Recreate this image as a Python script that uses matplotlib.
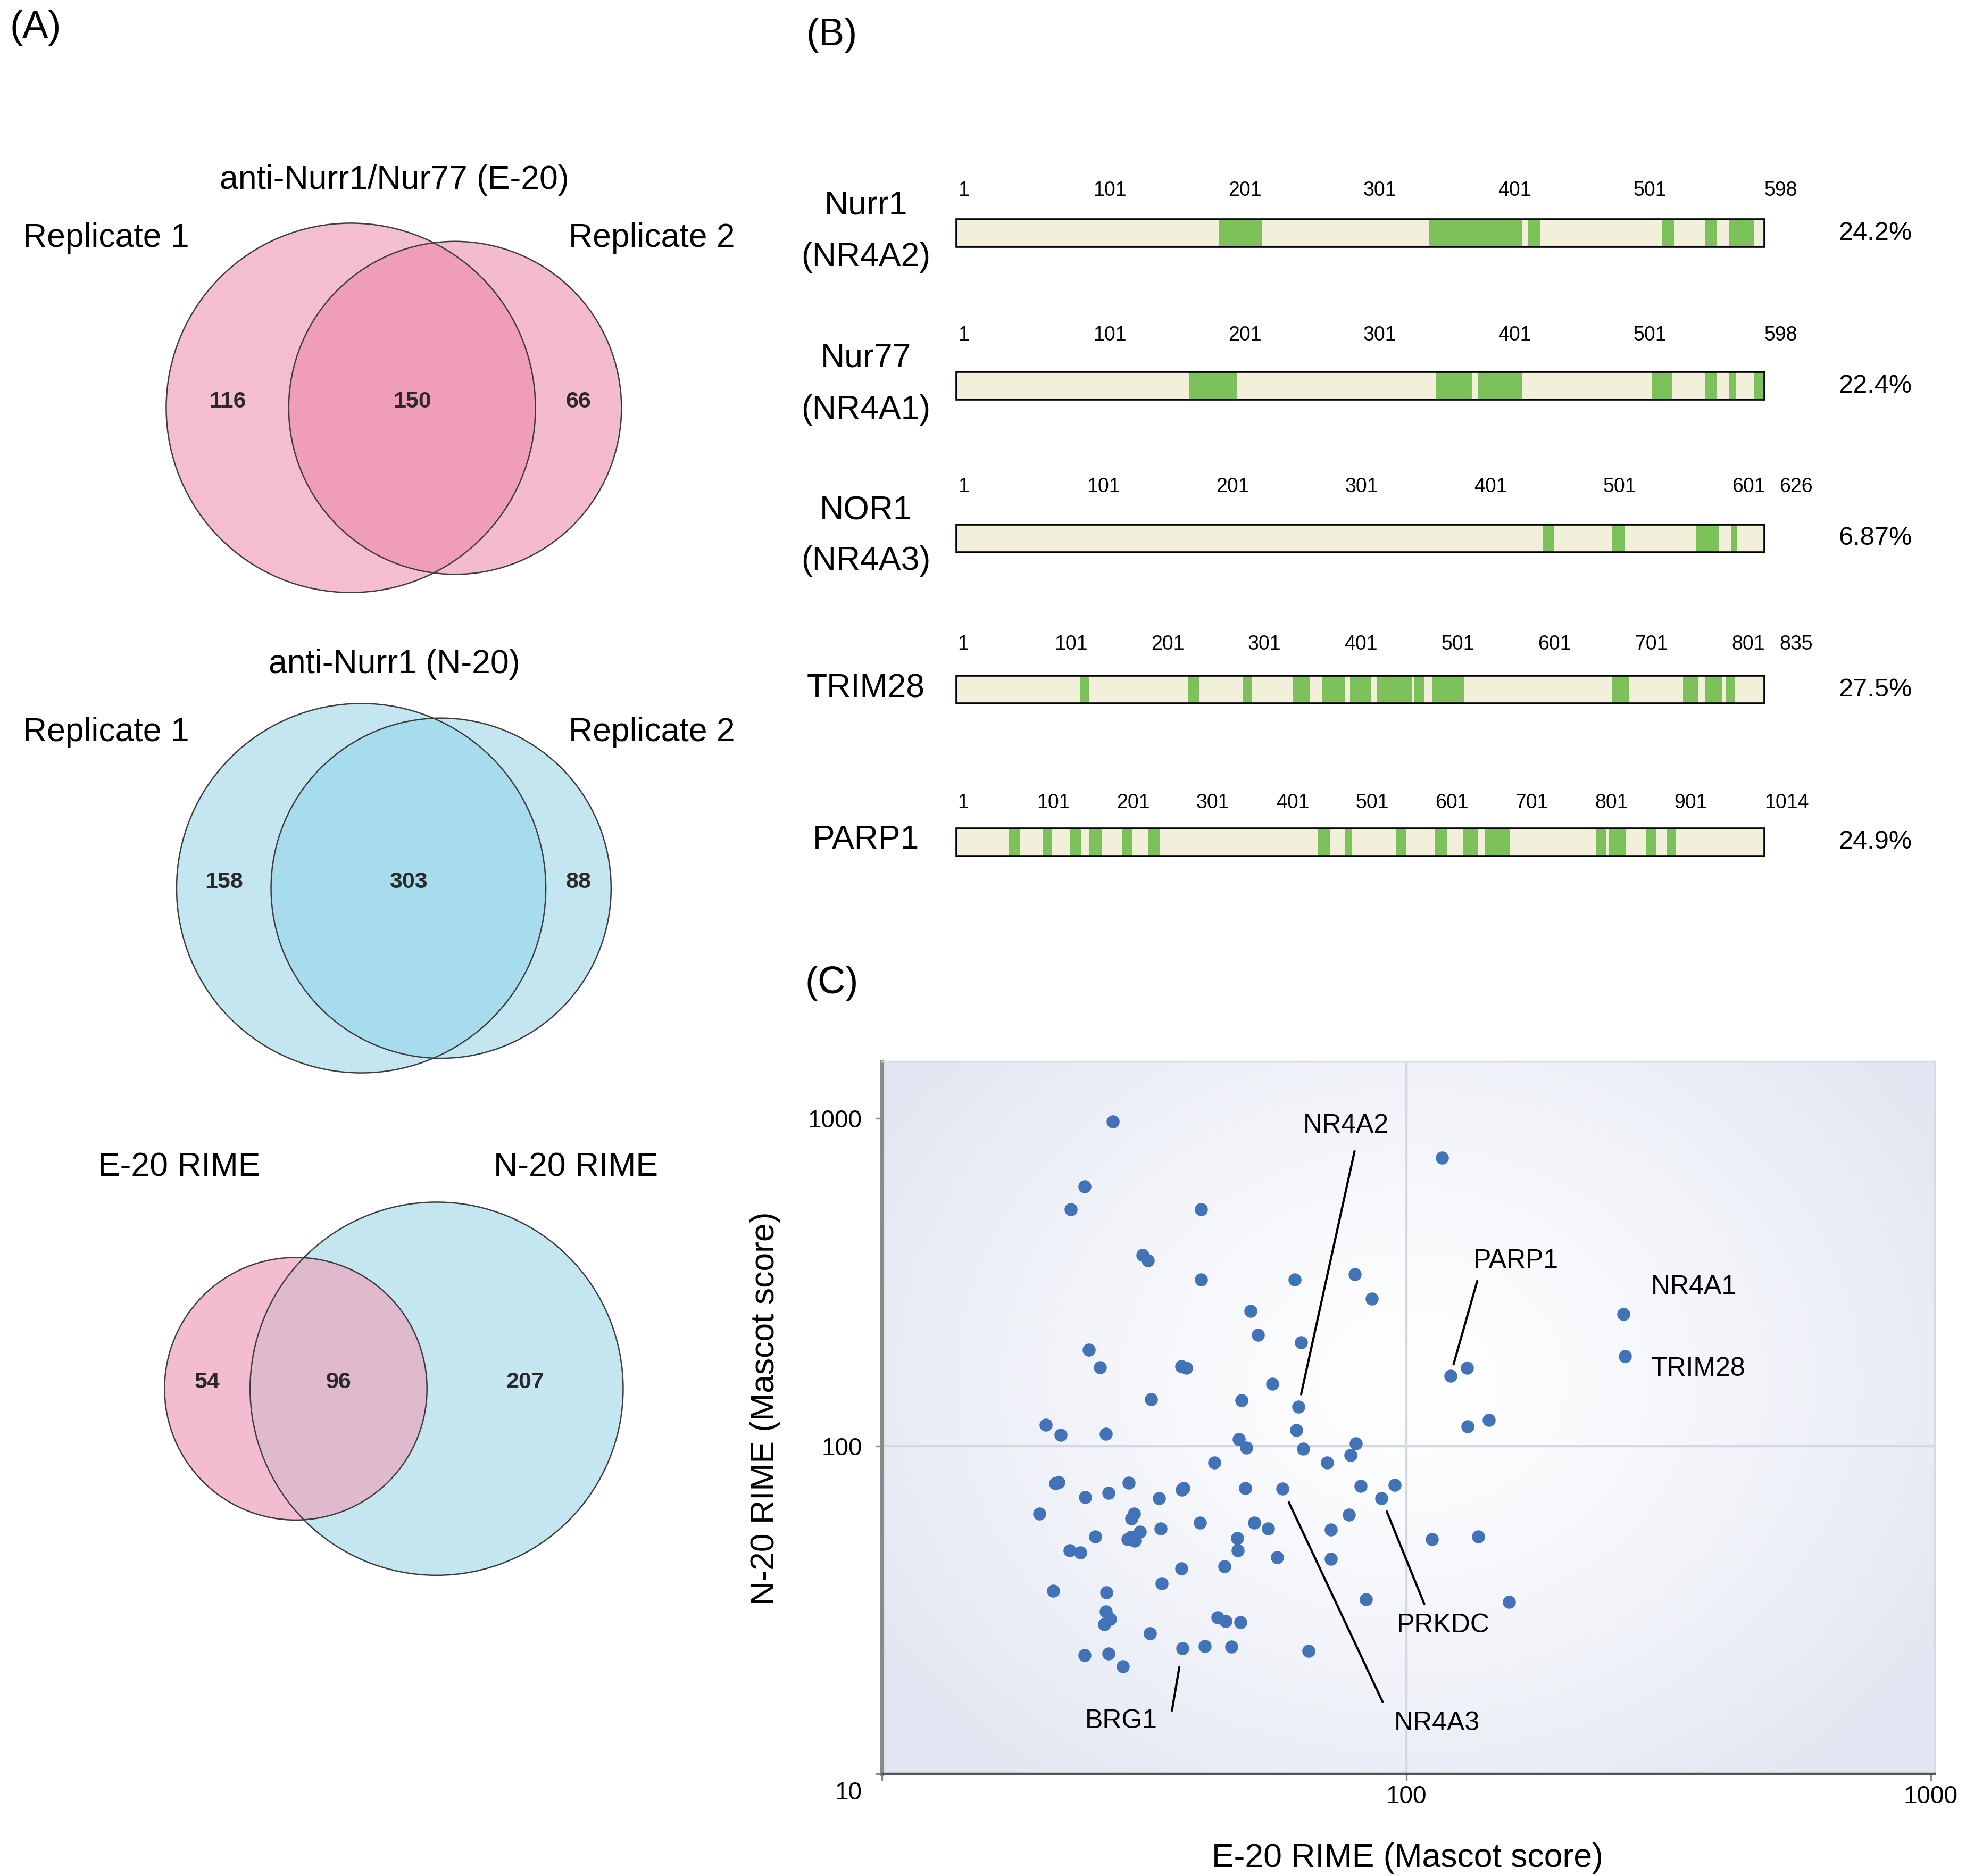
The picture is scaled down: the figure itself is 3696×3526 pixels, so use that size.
import numpy as np
import matplotlib
matplotlib.use("Agg")
import matplotlib.pyplot as plt
from matplotlib.patches import Circle, Rectangle

plt.rcParams['font.family'] = ['Liberation Sans', 'DejaVu Sans']

# ---------------- data ----------------
# (A) Venn diagrams: (only first, shared, only second)
venn_titles = ["anti-Nurr1/Nur77 (E-20)", "anti-Nurr1 (N-20)", ""]
venn_names = [("Replicate 1", "Replicate 2"), ("Replicate 1", "Replicate 2"), ("E-20 RIME", "N-20 RIME")]
venn_counts = [(116, 150, 66), (158, 303, 88), (54, 96, 207)]

# (B) peptide coverage maps
proteins = [("Nurr1", "(NR4A2)"), ("Nur77", "(NR4A1)"), ("NOR1", "(NR4A3)"), ("TRIM28", ""), ("PARP1", "")]
lengths = [598, 598, 626, 835, 1014]
residue_ticks = [
    [1, 101, 201, 301, 401, 501],
    [1, 101, 201, 301, 401, 501],
    [1, 101, 201, 301, 401, 501, 601],
    [1, 101, 201, 301, 401, 501, 601, 701, 801],
    [1, 101, 201, 301, 401, 501, 601, 701, 801, 901],
]
coverage = ["24.2%", "22.4%", "6.87%", "27.5%", "24.9%"]
segments = [
    [(194, 226), (350, 419), (423, 432), (522, 531), (554, 563), (572, 590)],
    [(172, 208), (355, 382), (386, 419), (515, 530), (554, 563), (572, 577), (590, 597)],
    [(454, 463), (508, 518), (573, 591), (600, 605)],
    [(128, 137), (239, 251), (296, 305), (348, 365), (378, 401), (407, 428), (435, 471),
     (473, 483), (492, 525), (677, 695), (751, 767), (774, 791), (795, 804)],
    [(66, 79), (109, 120), (143, 157), (166, 183), (208, 221), (240, 255), (454, 469),
     (487, 496), (552, 565), (601, 616), (636, 654), (663, 695), (803, 816), (819, 840),
     (865, 878), (892, 903)],
]

# (C) Mascot scores
e20 = [27.5, 24.3, 22.9, 40.6, 31.4, 32.1, 40.6, 61.2, 79.6, 85.9, 50.4, 52.1, 62.9, 24.8,
       26.0, 37.2, 38.0, 55.5, 32.6, 48.4, 62.2, 20.5, 21.9, 26.7, 61.7, 47.9, 49.5, 63.5,
       80.0, 78.2, 43.0, 70.6,
       116.8, 121.2, 130.4, 130.6, 143.5, 259.5, 261.0, 95.0, 111.8, 137.0, 157.0,
       21.7, 21.4, 29.5, 24.4, 27.0, 33.7, 37.6, 37.3, 49.2, 58.0, 81.8, 89.6, 19.95, 30.2,
       29.9, 29.8, 30.3, 31.0, 29.4, 25.5, 22.8, 23.9, 34.0, 40.4, 51.2, 54.5, 47.5, 47.7,
       56.6, 71.8, 71.8, 77.6, 37.2, 45.0, 34.1, 21.2, 26.8, 26.7, 27.2, 26.5, 83.6, 43.6,
       45.2, 48.2, 32.4, 24.3, 27.0, 28.8, 37.4, 41.2, 46.3, 65.0]
n20 = [977, 619, 527, 527, 383, 369, 322, 322, 335, 282, 258, 218, 207, 197,
       174, 175, 173, 155, 139, 138, 132, 116, 108, 109, 112, 105, 99, 98,
       102, 94, 89, 89,
       759, 164, 173, 115, 120, 253, 188, 76, 52, 53, 33.4,
       77.6, 77.0, 77.3, 69.8, 72.1, 69.3, 74.5, 73.5, 74.5, 74.1, 75.5, 69.2, 62.2, 62.2,
       60.1, 52.8, 51.5, 54.7, 51.9, 52.9, 48.1, 47.3, 56.1, 58.3, 58.3, 56.1, 52.4, 48.1,
       45.8, 55.6, 45.3, 61.7, 42.3, 43.0, 38.1, 36.2, 35.8, 31.3, 29.7, 28.6, 34.1, 30.0,
       29.2, 29.0, 26.8, 23.0, 23.3, 21.3, 24.2, 24.5, 24.4, 23.7]
labels = ["NR4A2", "PARP1", "NR4A1", "TRIM28", "PRKDC", "NR4A3", "BRG1"]
label_pts = [(62.2, 132), (121.2, 164), (259.5, 253), (261.0, 188), (89.6, 69.2), (58.0, 74.1), (37.4, 24.2)]

# ---------------- layout ----------------
W, H = 1560, 1488
fig = plt.figure(figsize=(18.48, 17.63), dpi=200)


def fy(y):
    return 1 - y / H


lay = fig.add_axes([0, 0, 1, 1], zorder=5)
lay.set_xlim(0, W)
lay.set_ylim(H, 0)
lay.axis('off')
lay.patch.set_alpha(0)

big = 22.5

lay.text(28, 22, "(A)", ha='center', va='center', fontsize=26)
lay.text(660, 28, "(B)", ha='center', va='center', fontsize=26)
lay.text(660, 780, "(C)", ha='center', va='center', fontsize=26)


# ---- Venn ----
def lens(r1, r2, d):
    a1 = r1 ** 2 * np.arccos((d * d + r1 * r1 - r2 * r2) / (2 * d * r1))
    a2 = r2 ** 2 * np.arccos((d * d + r2 * r2 - r1 * r1) / (2 * d * r2))
    a3 = 0.5 * np.sqrt((-d + r1 + r2) * (d + r1 - r2) * (d - r1 + r2) * (d + r1 + r2))
    return a1 + a2 - a3


def solve_d(r1, r2, target):
    lo, hi = abs(r1 - r2) + 1e-6, r1 + r2 - 1e-6
    for _ in range(80):
        mid = (lo + hi) / 2
        if lens(r1, r2, mid) > target:
            lo = mid
        else:
            hi = mid
    return (lo + hi) / 2


venn_cy = [323.5, 704.5, 1101.5]
venn_rmax = [146.5, 146.5, 148]
venn_cols = [("#F5BDD0", "#F4BACD", "#EF9DBA"),
             ("#C4E6F1", "#C4E6F1", "#A6DCEC"),
             ("#F4BCD0", "#C4E6F1", "#DFBACD")]
title_y = [143, 527, None]
name_pos = [((84, 189), (517, 189)), ((84, 581), (517, 581)), ((142, 926), (457, 926))]

for i, (a, ab, b) in enumerate(venn_counts):
    na, nb = a + ab, b + ab
    k = venn_rmax[i] / np.sqrt(max(na, nb))
    r1, r2 = k * np.sqrt(na), k * np.sqrt(nb)
    d = solve_d(r1, r2, np.pi * k * k * ab)
    x1 = 312.5 - (d + r2 - r1) / 2
    x2 = x1 + d
    cy = venn_cy[i]
    ca, cb, cab = venn_cols[i]
    c1 = Circle((x1, cy), r1, fc=ca, ec='none')
    c2 = Circle((x2, cy), r2, fc=cb, ec='none')
    lay.add_patch(c1)
    lay.add_patch(c2)
    c3 = Circle((x2, cy), r2, fc=cab, ec='none')
    lay.add_patch(c3)
    c3.set_clip_path(c1)
    lay.add_patch(Circle((x1, cy), r1, fc='none', ec='#3c3c3c', lw=0.9))
    lay.add_patch(Circle((x2, cy), r2, fc='none', ec='#3c3c3c', lw=0.9))
    xs = [((x1 - r1) + (x2 - r2)) / 2, ((x2 - r2) + (x1 + r1)) / 2, ((x1 + r1) + (x2 + r2)) / 2]
    for xv, val in zip(xs, (a, ab, b)):
        lay.text(xv, cy - 5, str(val), ha='center', va='center', fontsize=15.5,
                 fontweight='bold', color='#2a2a2a')
    if title_y[i] is not None:
        lay.text(313, title_y[i], venn_titles[i], ha='center', va='center', fontsize=big)
    for (px, py), nm in zip(name_pos[i], venn_names[i]):
        lay.text(px, py, nm, ha='center', va='center', fontsize=big)

# ---- protein coverage ----
bar_y = [185, 306, 427, 547, 668]
num_y = [151, 266, 386, 511, 637]
name_y = [(163, 204), (284, 325), (405, 445), (546, None), (666, None)]
bar_x0, bar_w, bar_h = 759, 641, 22

for i, L in enumerate(lengths):
    ax = fig.add_axes([bar_x0 / W, fy(bar_y[i] + bar_h / 2), bar_w / W, bar_h / H])
    ax.set_xlim(0, L)
    ax.set_ylim(0, 1)
    ax.axis('off')
    ax.broken_barh([(0, L)], (0, 1), facecolors='#F2F0DA')
    ax.broken_barh([(s, e - s) for s, e in segments[i]], (0, 1), facecolors='#7DC15B')
    ax.add_patch(Rectangle((0, 0), L, 1, fc='none', ec='black', lw=1.3, clip_on=False))
    ty = 0.5 + (bar_y[i] - num_y[i]) / bar_h
    ticks = residue_ticks[i]
    for r in ticks:
        ax.text(r, ty, str(r), ha='left', va='center', fontsize=13.5)
    shift = 12 if L - ticks[-1] < 60 else 0
    ax.annotate(str(L), (L, ty), xytext=(shift * 2.37 * 0.36, 0), textcoords='offset points',
                ha='left', va='center', fontsize=13.5, annotation_clip=False)
    n1, n2 = proteins[i]
    y1, y2 = name_y[i]
    lay.text(687, y1, n1, ha='center', va='center', fontsize=big)
    if n2:
        lay.text(687, y2, n2, ha='center', va='center', fontsize=big)
    lay.text(1459, bar_y[i], coverage[i], ha='left', va='center', fontsize=17.5)

# ---- scatter ----
rect = [700 / W, fy(1407), 835 / W, 565 / H]
bg = fig.add_axes(rect, zorder=0)
bg.axis('off')
gx, gy = np.meshgrid(np.linspace(0, 1, 500), np.linspace(0, 1, 400))
rr = np.sqrt(((gx - 0.5) / 0.62) ** 2 + ((gy - 0.55) / 0.75) ** 2)
t = np.clip(rr / 0.95, 0, 1) ** 1.3
edge = np.array([0.89, 0.905, 0.95])
img = 1 - t[..., None] * (1 - edge)
bg.imshow(img, extent=(0, 1, 0, 1), origin='lower', aspect='auto', interpolation='bilinear')

ax = fig.add_axes(rect, zorder=1)
ax.patch.set_alpha(0)
ax.set_xscale('log')
ax.set_yscale('log')
ax.axvline(100, color='#D4D8E0', lw=1.6, zorder=1)
ax.axhline(100, color='#D4D8E0', lw=1.6, zorder=1)
ax.scatter(e20, n20, s=78, c='#4273B8', linewidths=0, zorder=3)
ax.set_xlim(10, 1016)
ax.set_ylim(10, 1490)
ax.set_xticks([10, 100, 1000])
ax.set_xticklabels(['', '100', '1000'])
ax.set_yticks([10, 100, 1000])
ax.set_yticklabels(['', '100', '1000'])
ax.minorticks_off()
ax.tick_params(direction='out', length=4.5, width=1.2, color='#8a8a8a', labelsize=16.5)
ax.tick_params(axis='y', pad=9)
ax.tick_params(axis='x', pad=3)
ax.spines['left'].set_color('#8a8a8a')
ax.spines['left'].set_linewidth(2.6)
ax.spines['bottom'].set_color('#555555')
ax.spines['bottom'].set_linewidth(1.6)
for s in ('top', 'right'):
    ax.spines[s].set_color('#D6DAE2')
    ax.spines[s].set_linewidth(1.2)
lay.text(684, 1422, "10", ha='right', va='center', fontsize=16.5)

# label positions (text) and leader line starts
text_pos = [(76.7, 948), (161.8, 367.6), (292.5, 305.6), (292.5, 171.7), (117.4, 28.4), (114.2, 14.25), (28.6, 14.5)]
text_ha = ['center', 'center', 'left', 'left', 'center', 'center', 'center']
line_start = [(79.6, 794), (136.4, 319), None, None, (108.1, 33.0), (90.0, 16.6), (35.7, 15.6)]
line_gap = [8.5, 8, 0, 0, 9.5, 10, 13]
for name, pt, tp, ha, ls, gap in zip(labels, label_pts, text_pos, text_ha, line_start, line_gap):
    ax.text(tp[0], tp[1], name, ha=ha, va='center', fontsize=18, zorder=4)
    if ls is not None:
        ax.annotate('', xy=pt, xytext=ls,
                    arrowprops=dict(arrowstyle='-', lw=1.5, color='black', shrinkA=0, shrinkB=gap))

lay.text(1117, 1474, "E-20 RIME (Mascot score)", ha='center', va='center', fontsize=big)
lay.text(607, 1117, "N-20 RIME (Mascot score)", ha='center', va='center', fontsize=big, rotation=90)

fig.savefig("out.png", dpi=200, facecolor='white')
